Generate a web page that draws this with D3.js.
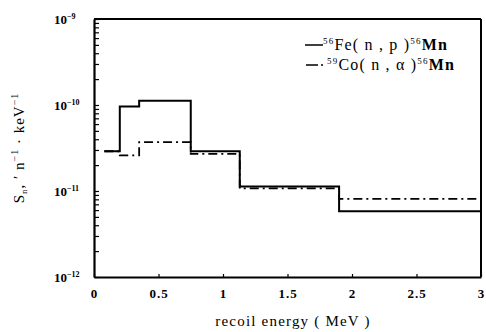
<!DOCTYPE html>
<html><head><meta charset="utf-8">
<script src="https://cdn.jsdelivr.net/npm/d3@7"></script>
<style>
body{margin:0;background:#fff;}
text{font-family:"Liberation Serif","DejaVu Serif",serif;fill:#000;}
</style></head>
<body><svg id="c" width="486" height="332"></svg>
<script>
// bin edges (MeV)
const binEdges = [0.08, 0.2, 0.35, 0.75, 1.13, 1.9, 3.0];
// 56Fe(n,p)56Mn
const feValues = [2.9e-11, 9.6e-11, 1.12e-10, 2.9e-11, 1.13e-11, 5.8e-12];
// 59Co(n,alpha)56Mn
const coValues = [2.9e-11, 2.6e-11, 3.7e-11, 2.7e-11, 1.07e-11, 8.1e-12];
const xTicks = [0, 0.5, 1, 1.5, 2, 2.5, 3];
const xTickLabels = ["0", "0.5", "1", "1.5", "2", "2.5", "3"];
const yDecades = [-9, -10, -11, -12];

const svg = d3.select("#c");
const L = 94, R = 481, T = 19, B = 277;
const x = d3.scaleLinear().domain([0, 3]).range([L, R]);
const y = d3.scaleLog().domain([1e-12, 1e-9]).range([B, T]);

// minor ticks for log axis
const minor = [];
for (let e = -12; e < -9; e++) for (let m = 1; m < 10; m++) minor.push(m * Math.pow(10, e));
minor.push(1e-9);

// left axis
const gl = svg.append("g").attr("transform", `translate(${L},0)`)
  .call(d3.axisLeft(y).tickValues(minor).tickSizeInner(-5).tickSizeOuter(0).tickFormat(""));
gl.selectAll("path").attr("stroke-width", 2.2);
gl.selectAll("line").attr("stroke-width", 1.2);

// bottom axis
const gb = svg.append("g").attr("transform", `translate(0,${B})`)
  .call(d3.axisBottom(x).tickValues(xTicks).tickSizeInner(-3).tickSizeOuter(0).tickPadding(10)
    .tickFormat((d, i) => xTickLabels[i]));
gb.selectAll("path").attr("stroke-width", 2.2);
gb.selectAll("line").attr("stroke-width", 1.2);
gb.selectAll("text").attr("font-size", 13).attr("font-weight", "bold")
  .attr("font-family", "'Liberation Serif',serif").attr("dy", "0.85em").attr("letter-spacing", 1);

// top & right border
svg.append("line").attr("x1", L).attr("x2", R).attr("y1", T).attr("y2", T).attr("stroke", "#000").attr("stroke-width", 2);
svg.append("line").attr("x1", R).attr("x2", R).attr("y1", T).attr("y2", B).attr("stroke", "#000").attr("stroke-width", 2);

// y tick labels
yDecades.forEach(e => {
  const t = svg.append("text").attr("x", 54).attr("y", y(Math.pow(10, e)) + 5)
    .attr("font-size", 13).attr("font-weight", "bold");
  t.append("tspan").text("10");
  t.append("tspan").attr("dy", -5).attr("font-size", 8).text("−" + (-e));
});

// step lines
function stepPts(vals) {
  const p = vals.map((v, i) => [binEdges[i], v]);
  p.push([binEdges[binEdges.length - 1], vals[vals.length - 1]]);
  return p;
}
const line = d3.line().x(d => x(d[0])).y(d => y(d[1])).curve(d3.curveStepAfter);
svg.append("path").datum(stepPts(coValues)).attr("d", line).attr("fill", "none")
  .attr("stroke", "#000").attr("stroke-width", 1.8).attr("stroke-dasharray", "9,4,2,4");
svg.append("path").datum(stepPts(feValues)).attr("d", line).attr("fill", "none")
  .attr("stroke", "#000").attr("stroke-width", 2);

// legend
svg.append("line").attr("x1", 305).attr("x2", 323).attr("y1", 45).attr("y2", 45)
  .attr("stroke", "#000").attr("stroke-width", 1.5);
const l1 = svg.append("text").attr("x", 323).attr("y", 50).attr("font-size", 16).attr("letter-spacing", 1.2);
l1.append("tspan").attr("font-size", 9).attr("dy", -6).text("56");
l1.append("tspan").attr("dy", 6).text("Fe( n , p )");
l1.append("tspan").attr("font-size", 9).attr("dy", -6).text("56");
l1.append("tspan").attr("dy", 6).attr("font-weight", "bold").text("Mn");

svg.append("line").attr("x1", 306).attr("x2", 326).attr("y1", 65).attr("y2", 65)
  .attr("stroke", "#000").attr("stroke-width", 1.5).attr("stroke-dasharray", "12,3,2,10");
const l2 = svg.append("text").attr("x", 327).attr("y", 70).attr("font-size", 16).attr("letter-spacing", 1.2);
l2.append("tspan").attr("font-size", 9).attr("dy", -6).text("59");
l2.append("tspan").attr("dy", 6).text("Co( n , α )");
l2.append("tspan").attr("font-size", 9).attr("dy", -6).text("56");
l2.append("tspan").attr("dy", 6).attr("font-weight", "bold").text("Mn");

// axis titles
svg.append("text").attr("x", 293).attr("y", 326).attr("text-anchor", "middle")
  .attr("font-size", 15).attr("letter-spacing", 1.2).text("recoil energy ( MeV )");

const yt = svg.append("text").attr("transform", "translate(24,148) rotate(-90)")
  .attr("text-anchor", "middle").attr("font-size", 15).attr("letter-spacing", 1);
yt.append("tspan").text("S");
yt.append("tspan").attr("font-size", 9).attr("dy", 3).text("n");
yt.append("tspan").attr("dy", -3).text(", ′ n");
yt.append("tspan").attr("font-size", 10).attr("dy", -6).text("−1");
yt.append("tspan").attr("dy", 6).text(" · keV");
yt.append("tspan").attr("font-size", 10).attr("dy", -6).text("−1");
</script></body></html>
